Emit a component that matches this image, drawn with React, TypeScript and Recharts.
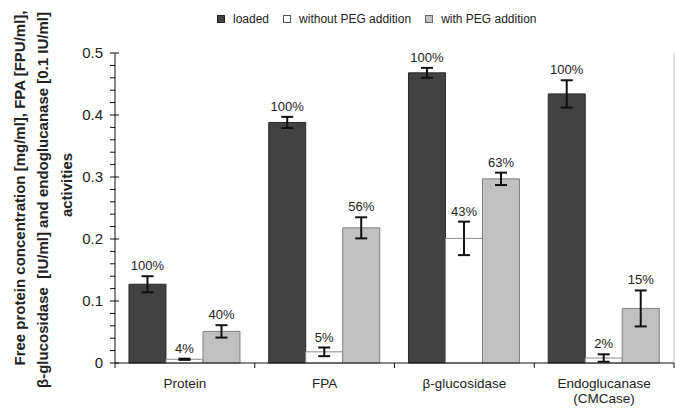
import { BarChart, Bar, XAxis, YAxis, ErrorBar, LabelList } from "recharts";

const categories = ["Protein", "FPA", "β-glucosidase", "Endoglucanase (CMCase)"];

const loaded = [0.127, 0.388, 0.468, 0.434];
const loadedErr = [0.013, 0.009, 0.008, 0.022];
const loadedPct = ["100%", "100%", "100%", "100%"];

const withoutPeg = [0.006, 0.018, 0.201, 0.008];
const withoutPegErr = [0.001, 0.007, 0.027, 0.006];
const withoutPegPct = ["4%", "5%", "43%", "2%"];

const withPeg = [0.051, 0.218, 0.297, 0.088];
const withPegErr = [0.01, 0.017, 0.01, 0.029];
const withPegPct = ["40%", "56%", "63%", "15%"];

const majorTicks = [0, 0.1, 0.2, 0.3, 0.4, 0.5];
const allTicks = [
  0, 0.02, 0.04, 0.06, 0.08, 0.1, 0.12, 0.14, 0.16, 0.18, 0.2, 0.22, 0.24, 0.26, 0.28, 0.3,
  0.32, 0.34, 0.36, 0.38, 0.4, 0.42, 0.44, 0.46, 0.48, 0.5,
];

const legendItems = [
  { name: "loaded", fill: "#404040", stroke: "#222" },
  { name: "without PEG addition", fill: "#ffffff", stroke: "#555" },
  { name: "with PEG addition", fill: "#c0c0c0", stroke: "#666" },
];

const data = categories.map((c, i) => ({
  category: c,
  loaded: loaded[i],
  loadedErr: loadedErr[i],
  loadedPct: loadedPct[i],
  withoutPeg: withoutPeg[i],
  withoutPegErr: withoutPegErr[i],
  withoutPegPct: withoutPegPct[i],
  withPeg: withPeg[i],
  withPegErr: withPegErr[i],
  withPegPct: withPegPct[i],
}));

const W = 675;
const H = 412;
const M = { top: 53, right: 0, bottom: 0, left: 0 };
const Y_W = 115;
const X_H = 49;
const PLOT_H = H - M.top - X_H;
const PX_PER_UNIT = PLOT_H / 0.5;
const BAND = (W - Y_W - 1) / categories.length;

const YTick = (props: any) => {
  const { x, y, payload } = props;
  const major = majorTicks.some((t) => Math.abs(t - payload.value) < 1e-6);
  return (
    <g>
      <line x1={x - 5} x2={major ? x + 4 : x} y1={y} y2={y} stroke="#111" />
      {major && (
        <text x={x - 12} y={y} dy="0.35em" textAnchor="end" fontSize={15} fill="#222">
          {payload.value === 0 ? "0" : payload.value.toFixed(1)}
        </text>
      )}
    </g>
  );
};

const XTick = (props: any) => {
  const { x, y, payload, index } = props;
  const parts = String(payload.value).split(" (");
  const lines = parts.length > 1 ? [parts[0], "(" + parts[1]] : parts;
  return (
    <g>
      <line x1={x - BAND / 2} x2={x - BAND / 2} y1={y} y2={y + 5} stroke="#111" />
      {index === categories.length - 1 && (
        <line x1={x + BAND / 2} x2={x + BAND / 2} y1={y} y2={y + 5} stroke="#111" />
      )}
      {lines.map((l, i) => (
        <text key={i} x={x} y={y + 25 + i * 15} textAnchor="middle" fontSize={13.5} fill="#222">
          {l}
        </text>
      ))}
    </g>
  );
};

const pctLabel = (errs: number[]) => (props: any) => {
  const { x, y, width, value, index } = props;
  return (
    <text
      x={x + width / 2}
      y={y - errs[index] * PX_PER_UNIT - 6}
      textAnchor="middle"
      fontSize={13}
      fill="#222"
    >
      {value}
    </text>
  );
};

const YLabel = () => (
  <g fontWeight="bold" fontSize={15} fill="#222">
    <text transform="translate(25,188) rotate(-90)" textAnchor="middle">
      Free protein concentration [mg/ml], FPA [FPU/ml],
    </text>
    <text transform="translate(48,200) rotate(-90)" textAnchor="middle" xmlSpace="preserve">
      β-glucosidase  [IU/ml] and endoglucanase [0.1 IU/ml]
    </text>
    <text transform="translate(72,185) rotate(-90)" textAnchor="middle">
      activities
    </text>
  </g>
);

export default function App() {
  return (
    <div
      style={{
        position: "absolute",
        left: 0,
        top: 0,
        width: W,
        height: H,
        background: "#fff",
        fontFamily: "'Liberation Sans', Arial, sans-serif",
      }}
    >
      <div
        style={{
          position: "absolute",
          left: 217,
          top: 12,
          display: "flex",
          alignItems: "center",
          fontSize: 12,
          color: "#222",
          whiteSpace: "nowrap",
        }}
      >
        {legendItems.map((it) => (
          <div key={it.name} style={{ display: "flex", alignItems: "center", marginRight: 14 }}>
            <span
              style={{
                display: "inline-block",
                width: 6,
                height: 6,
                background: it.fill,
                border: `1px solid ${it.stroke}`,
                marginRight: 8,
              }}
            />
            <span>{it.name}</span>
          </div>
        ))}
      </div>
      <BarChart
        width={W}
        height={H}
        data={data}
        margin={M}
        barCategoryGap="10%"
        barGap={0}
      >
        <XAxis
          dataKey="category"
          height={X_H}
          tickSize={0}
          tickMargin={0}
          tick={<XTick />}
          axisLine={{ stroke: "#111" }}
          interval={0}
        />
        <XAxis
          xAxisId="top"
          dataKey="category"
          orientation="top"
          height={0}
          tick={false}
          tickLine={false}
          axisLine={{ stroke: "#c4c4c4" }}
        />
        <YAxis
          width={Y_W}
          domain={[0, 0.5]}
          ticks={allTicks}
          interval={0}
          tickSize={0}
          tickMargin={0}
          tick={<YTick />}
          axisLine={{ stroke: "#111" }}
          label={<YLabel />}
        />
        <YAxis
          yAxisId="right"
          orientation="right"
          width={1}
          domain={[0, 0.5]}
          tick={false}
          tickLine={false}
          axisLine={{ stroke: "#c4c4c4" }}
        />
        <Bar dataKey="loaded" fill="#424242" stroke="#2a2a2a" isAnimationActive={false}>
          <ErrorBar dataKey="loadedErr" width={6} strokeWidth={2} stroke="#111" />
          <LabelList dataKey="loadedPct" content={pctLabel(loadedErr)} />
        </Bar>
        <Bar dataKey="withoutPeg" fill="#ffffff" stroke="#8a8a8a" isAnimationActive={false}>
          <ErrorBar dataKey="withoutPegErr" width={6} strokeWidth={2} stroke="#111" />
          <LabelList dataKey="withoutPegPct" content={pctLabel(withoutPegErr)} />
        </Bar>
        <Bar dataKey="withPeg" fill="#c0c0c0" stroke="#808080" isAnimationActive={false}>
          <ErrorBar dataKey="withPegErr" width={6} strokeWidth={2} stroke="#111" />
          <LabelList dataKey="withPegPct" content={pctLabel(withPegErr)} />
        </Bar>
      </BarChart>
    </div>
  );
}
